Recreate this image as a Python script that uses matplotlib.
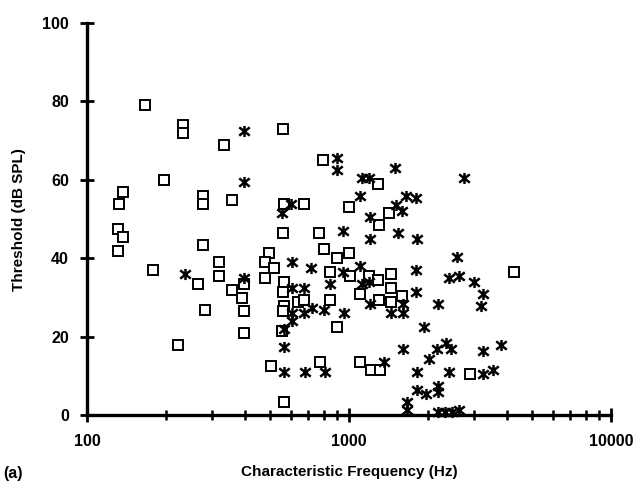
import matplotlib
matplotlib.use("Agg")
import matplotlib.pyplot as plt
from matplotlib.path import Path
from matplotlib.ticker import LogLocator, NullFormatter, FixedLocator

plt.rcParams['font.family'] = ['Liberation Sans', 'DejaVu Sans']

# units shown as open squares: (CF in Hz, threshold in dB SPL)
sq_cf = [167, 233, 233, 332, 197, 137, 133, 278, 278, 359,
         131, 137, 131, 278, 178, 318, 318, 266, 281, 223,
         359, 389, 396, 396, 396, 559, 795, 1291, 1000, 1423,
         1304, 563, 673, 559, 767, 494, 477, 516, 802, 899,
         1000, 477, 563, 559, 846, 1009, 1193, 1291, 1448, 1448,
         1102, 1304, 1448, 1597, 638, 673, 846, 899, 563, 559,
         553, 502, 774, 1102, 1214, 1316, 563, 4249, 2884]
sq_thr = [79, 74, 72, 69, 60, 57, 54, 56, 54, 55,
          47.5, 45.5, 42, 43.5, 37, 39, 35.5, 33.5, 27, 18,
          32, 30, 33.5, 26.5, 21, 73, 65, 59, 53, 51.5,
          48.5, 54, 54, 46.5, 46.5, 41.5, 39, 37.5, 42.5, 40,
          41.5, 35, 34, 31.5, 36.5, 35.5, 35.5, 34.5, 36, 32.5,
          31, 29.5, 29, 30.5, 29, 29.5, 29.5, 22.5, 28, 26.5,
          21.5, 12.5, 13.5, 13.5, 11.5, 11.5, 3.5, 36.5, 10.5]

# units shown as asterisks
ast_cf = [396, 396, 237, 396, 899, 899, 1124, 1193, 1500, 1102,
          1511, 1203, 1541, 600, 553, 948, 1203, 605, 715, 1102,
          605, 673, 948, 846, 1124, 1193, 1203, 1448, 721, 673,
          802, 957, 605, 605, 563, 563, 563, 678, 809, 1361,
          1668, 1821, 1806, 1806, 2193, 1938, 1610, 1821, 2026, 2193,
          1821, 1972, 2353, 2174, 2594, 2416, 2620, 3013, 3261, 3204,
          1610, 1610, 2459, 3234, 3789, 2400, 3234, 3531, 2193, 1668,
          2193, 2330, 2480, 2620, 2759, 1651, 1806, 1597]
ast_thr = [72.5, 59.5, 36, 35, 65.5, 62.5, 60.5, 60.5, 63, 56,
           53.5, 50.5, 46.5, 54, 51.5, 47, 45, 39, 37.5, 38,
           32.5, 32.5, 36.5, 33.5, 33.5, 34, 28.5, 26, 27.5, 26,
           27, 26, 26, 24, 22, 17.5, 11, 11, 11, 13.5,
           3.5, 45, 37, 31.5, 28.5, 22.5, 17, 11, 14.5, 7.5,
           6.5, 5.5, 18.5, 17, 40.5, 35, 35.5, 34, 31, 28,
           28.5, 26, 17, 16.5, 18, 11, 10.5, 11.5, 6, 1.5,
           1, 1, 1, 1.5, 60.5, 56, 55.5, 52]

y_ticks = [0, 20, 40, 60, 80, 100]
x_ticks = [100, 1000, 10000]
x_ticklabels = ['100', '1000', '10000']

# asterisk: vertical bar plus an X
star = Path([(0, -1), (0, 1), (-0.95, -0.75), (0.95, 0.75), (-0.95, 0.75), (0.95, -0.75)],
            [Path.MOVETO, Path.LINETO, Path.MOVETO, Path.LINETO, Path.MOVETO, Path.LINETO])

fig = plt.figure(figsize=(6.43, 4.88), dpi=100)
ax = fig.add_axes([0.1353, 0.1486, 0.8149, 0.8043])

ax.plot(sq_cf, sq_thr, ls='none', marker='s', ms=7, mfc='white', mec='black',
        mew=1.4, clip_on=False, zorder=3)
ax.plot(ast_cf, ast_thr, ls='none', marker=star, ms=8, mec='black', mfc='none',
        mew=1.8, clip_on=False, zorder=4)

ax.set_xscale('log')
ax.set_xlim(100, 10000)
ax.set_ylim(0, 100)

ax.xaxis.set_major_locator(FixedLocator(x_ticks))
ax.set_xticklabels(x_ticklabels)
ax.xaxis.set_minor_locator(LogLocator(base=10, subs=range(2, 10)))
ax.xaxis.set_minor_formatter(NullFormatter())
ax.set_yticks(y_ticks)

for s in ['top', 'right']:
    ax.spines[s].set_visible(False)
for s in ['left', 'bottom']:
    ax.spines[s].set_linewidth(2.4)

ax.tick_params(axis='both', which='major', direction='inout', length=10, width=2,
               labelsize=11.5, pad=8)
ax.tick_params(axis='x', which='minor', direction='inout', length=7, width=1.8)
for lab in ax.get_xticklabels() + ax.get_yticklabels():
    lab.set_fontweight('bold')

ax.set_ylabel('Threshold (dB SPL)', fontsize=11, fontweight='bold', labelpad=12)
ax.set_xlabel('Characteristic Frequency (Hz)', fontsize=11, fontweight='bold', labelpad=12)
fig.text(0.005, 0.03, '(a)', fontsize=11.5, fontweight='bold', ha='left', va='center')

fig.savefig('out.png', dpi=100)
